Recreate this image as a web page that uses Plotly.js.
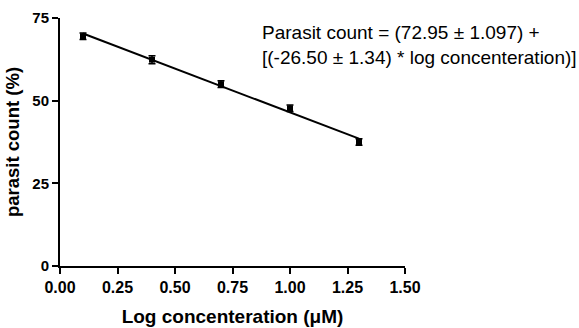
<!DOCTYPE html>
<html><head><meta charset="utf-8">
<script src="https://cdn.plot.ly/plotly-3.0.1.min.js"></script>
<style>html,body{margin:0;padding:0;background:#fff}</style>
</head><body><div id="chart" style="width:579px;height:328px"></div>
<script>
const logConc = [0.1, 0.4, 0.7, 1.0, 1.3];
const parasitCount = [69.5, 62.4, 55.0, 47.7, 37.5];
const errSD = [1.0, 1.2, 1.0, 1.0, 1.0];
const fitIntercept = 72.95;
const fitSlope = -26.50;
const fitX = [0.1, 1.3];
const fitY = fitX.map(x => fitIntercept + fitSlope * x);
const xTicks = [0, 0.25, 0.5, 0.75, 1.0, 1.25, 1.5];
const xTickText = ['0.00','0.25','0.50','0.75','1.00','1.25','1.50'];
const yTicks = [0, 25, 50, 75];
const yTickText = ['0', '25', '50', '75'];

const font = 'Arial, Liberation Sans, Helvetica, sans-serif';
const data = [
  {x: fitX, y: fitY, mode: 'lines', line: {color: '#000', width: 2}, hoverinfo: 'skip', cliponaxis: false},
  {x: logConc, y: parasitCount, mode: 'markers', cliponaxis: false,
   marker: {symbol: 'square', size: 6, color: '#000'},
   error_y: {type: 'data', array: errSD, visible: true, color: '#000', thickness: 1.5, width: 3.5}}
];
const layout = {
  width: 579, height: 328,
  margin: {l: 60, r: 174, t: 18, b: 62},
  paper_bgcolor: '#fff', plot_bgcolor: '#fff',
  showlegend: false,
  font: {family: font, color: '#000'},
  xaxis: {range: [0, 1.5], tickvals: xTicks, ticktext: xTickText, showgrid: false, zeroline: false,
    showline: true, linecolor: '#000', linewidth: 2, ticks: 'outside', ticklen: 6, tickwidth: 2, tickcolor: '#000',
    tickfont: {family: font, size: 16, color: '#000', weight: 700},
    title: {text: 'Log concenteration (μM)', font: {family: font, size: 19, color: '#000', weight: 700}, standoff: 14}},
  yaxis: {range: [0, 75], tickvals: yTicks, ticktext: yTickText, showgrid: false, zeroline: false,
    showline: true, linecolor: '#000', linewidth: 2, ticks: 'outside', ticklen: 6, tickwidth: 2, tickcolor: '#000',
    tickfont: {family: font, size: 15, color: '#000', weight: 700},
    title: {text: 'parasit count (%)', font: {family: font, size: 18.5, color: '#000', weight: 700}, standoff: 8}},
  annotations: [{
    xref: 'paper', yref: 'paper', x: 0.58, y: 0.99, xanchor: 'left', yanchor: 'top', align: 'left',
    showarrow: false,
    text: 'Parasit count = (72.95 ± 1.097) +<br>[(-26.50 ± 1.34) * log concenteration)]',
    font: {family: font, size: 19, color: '#000'}
  }]
};
Plotly.newPlot('chart', data, layout, {displayModeBar: false, staticPlot: true});
</script></body></html>
